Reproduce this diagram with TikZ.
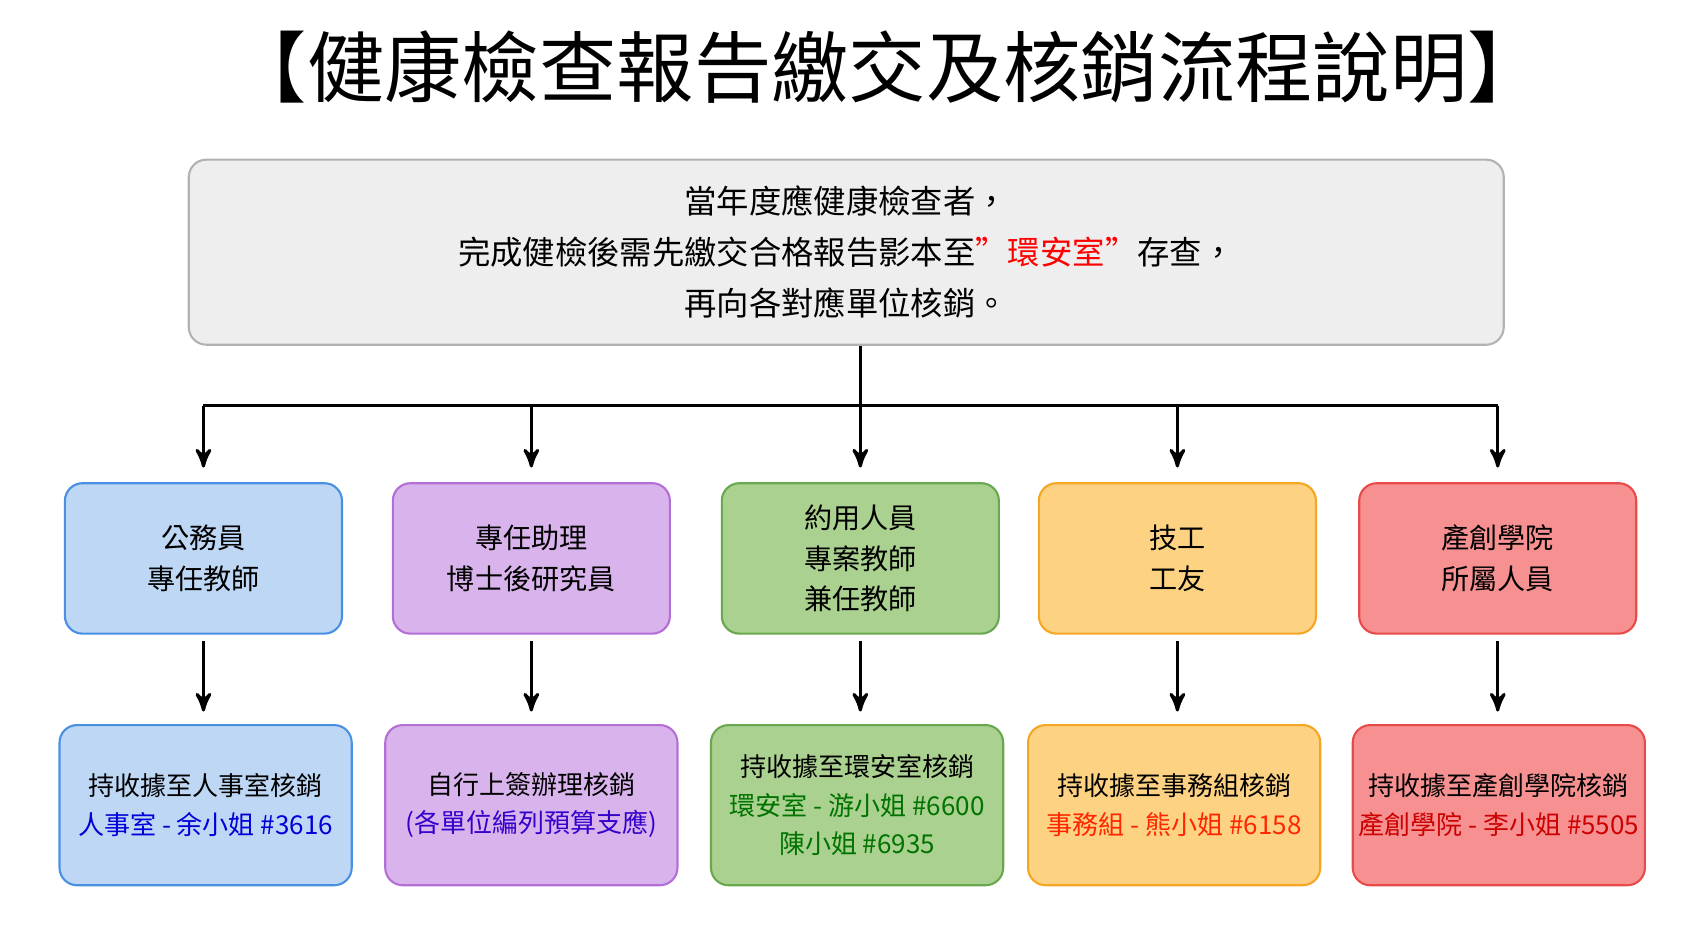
\documentclass[tikz,border=0pt]{standalone}
\usepackage{fontspec}
\setmainfont{Noto Sans CJK TC}
\usepackage{tikz}
\usetikzlibrary{positioning,arrows}
\definecolor{blueF}{HTML}{BDD7F5}\definecolor{blueD}{HTML}{4A90E2}
\definecolor{purpF}{HTML}{D9B3EC}\definecolor{purpD}{HTML}{B36FD6}
\definecolor{grnF}{HTML}{AAD18F}\definecolor{grnD}{HTML}{6AA84F}
\definecolor{orgF}{HTML}{FDD283}\definecolor{orgD}{HTML}{F5A623}
\definecolor{redF}{HTML}{F79191}\definecolor{redD}{HTML}{E84A4A}
\newcommand{\fs}[2]{\fontsize{#1}{#2}\selectfont}

\begin{document}
\begin{tikzpicture}[x=0.01082cm,y=-0.01082cm,>=stealth',line width=0.9pt,
  box/.style={rounded corners=5pt,draw,line width=0.6pt,align=center,inner sep=0pt},
  mid/.style={box,minimum width=256*0.1082mm,minimum height=139*0.1082mm,font=\fs{8}{11.5}},
  low/.style={box,minimum width=270*0.1082mm,minimum height=148*0.1082mm,font=\fs{7.4}{11}}]

	\useasboundingbox (0,0) rectangle (1570,856);

	% Title and top box
	\node at (820,62) (title) {\fs{22}{26}【健康檢查報告繳交及核銷流程說明】};
	\node [box,draw=gray!60,fill=gray!13,minimum width=1215*0.1082mm,minimum height=171*0.1082mm,font=\fs{9.2}{14.5}] at (782,233) (top)
	  {當年度應健康檢查者，\\完成健檢後需先繳交合格報告影本至\textcolor{red}{"環安室"}存查，\\再向各對應單位核銷。};

	% Middle row
	\node [mid,fill=blueF,draw=blueD] at (188,516) (m1) {公務員\\專任教師};
	\node [mid,fill=purpF,draw=purpD] at (491,516) (m2) {專任助理\\博士後研究員};
	\node [mid,fill=grnF,draw=grnD] at (795,516) (m3) {約用人員\\專案教師\\兼任教師};
	\node [mid,fill=orgF,draw=orgD] at (1088,516) (m4) {技工\\工友};
	\node [mid,fill=redF,draw=redD] at (1384,516) (m5) {產創學院\\所屬人員};

	% Bottom row
	\node [low,fill=blueF,draw=blueD] at (190,744) (b1) {持收據至人事室核銷\\\textcolor{blue!85!black}{人事室 - 余小姐 \#3616}};
	\node [low,fill=purpF,draw=purpD] at (491,744) (b2) {自行上簽辦理核銷\\\textcolor{blue!60!violet}{(各單位編列預算支應)}};
	\node [low,fill=grnF,draw=grnD] at (792,744) (b3) {持收據至環安室核銷\\\textcolor{green!45!black}{環安室 - 游小姐 \#6600}\\\textcolor{green!45!black}{陳小姐 \#6935}};
	\node [low,fill=orgF,draw=orgD] at (1085,744) (b4) {持收據至事務組核銷\\\textcolor{red!70!orange}{事務組 - 熊小姐 \#6158}};
	\node [low,fill=redF,draw=redD] at (1385,744) (b5) {持收據至產創學院核銷\\\textcolor{red!80!black}{產創學院 - 李小姐 \#5505}};

	% Connectors
	\coordinate (hub) at (795,375);
	\draw (top.south -| hub) -- (hub);
	\draw (m1.north |- hub) -- (m5.north |- hub);
	\foreach \i in {1,...,5}{
	  \draw[->] (m\i.north |- hub) -- ++(0,57);
	  \draw[->] (m\i.south) ++(0,6) -- ++(0,65);
	}

\end{tikzpicture}
\end{document}
